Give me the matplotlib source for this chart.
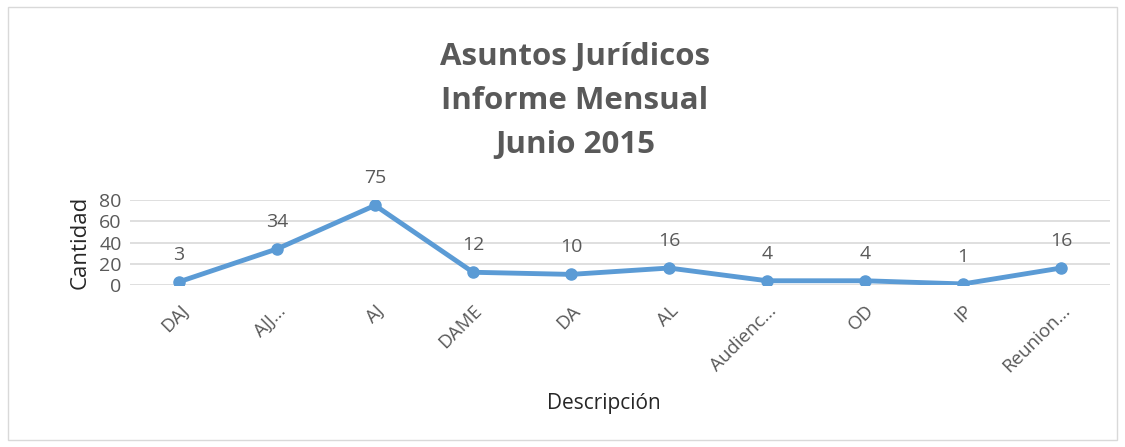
import matplotlib
matplotlib.use("Agg")
import matplotlib.pyplot as plt
from matplotlib.patches import Rectangle

categories = ["DAJ", "AJJ...", "AJ", "DAME", "DA", "AL", "Audienc...", "OD", "IP", "Reunion..."]
values = [3, 34, 75, 12, 10, 16, 4, 4, 1, 16]
yticks = [0, 20, 40, 60, 80]

plt.rcParams['font.family'] = ['Open Sans', 'DejaVu Sans']
txt = '#595959'
blue = '#5B9BD5'

fig = plt.figure(figsize=(11.25, 4.47), dpi=100)
fig.patches.append(Rectangle((0.007, 0.015), 0.986, 0.97, transform=fig.transFigure,
                             fill=False, edgecolor='#D9D9D9', linewidth=1))
ax = fig.add_axes([0.1156, 0.3624, 0.8711, 0.190])
x = list(range(len(categories)))
ax.plot(x, values, color=blue, linewidth=3.5, marker='o', markersize=8, zorder=3,
        solid_capstyle='round')
for xi, v in zip(x, values):
    ax.annotate(str(v), (xi, v), xytext=(0, 13), textcoords='offset points',
                ha='center', va='bottom', fontsize=14, color=txt)
ax.set_xlim(-0.5, len(categories) - 0.5)
ax.set_ylim(0, 80)
ax.set_yticks(yticks)
ax.set_yticklabels([str(t) for t in yticks], fontsize=14, color=txt)
ax.set_xticks(x)
ax.set_xticklabels(categories, rotation=45, ha='right', rotation_mode='anchor',
                   fontsize=13.5, color=txt)
ax.tick_params(axis='both', length=0, pad=6)
ax.tick_params(axis='x', pad=12)
ax.grid(axis='y', color='#D9D9D9', linewidth=1.2)
ax.set_axisbelow(True)
for s in ax.spines.values():
    s.set_visible(False)
ax.set_ylabel("Cantidad", fontsize=16, color='#262626', labelpad=6)
fig.text(0.537, 0.085, "Descripción", fontsize=15, color='#262626', ha='center')
fig.text(0.511, 0.905, "Asuntos Jurídicos\nInforme Mensual\nJunio 2015", fontsize=22.5,
         fontweight='bold', color=txt, ha='center', va='top', linespacing=1.6)
fig.savefig("out.png", dpi=100)
